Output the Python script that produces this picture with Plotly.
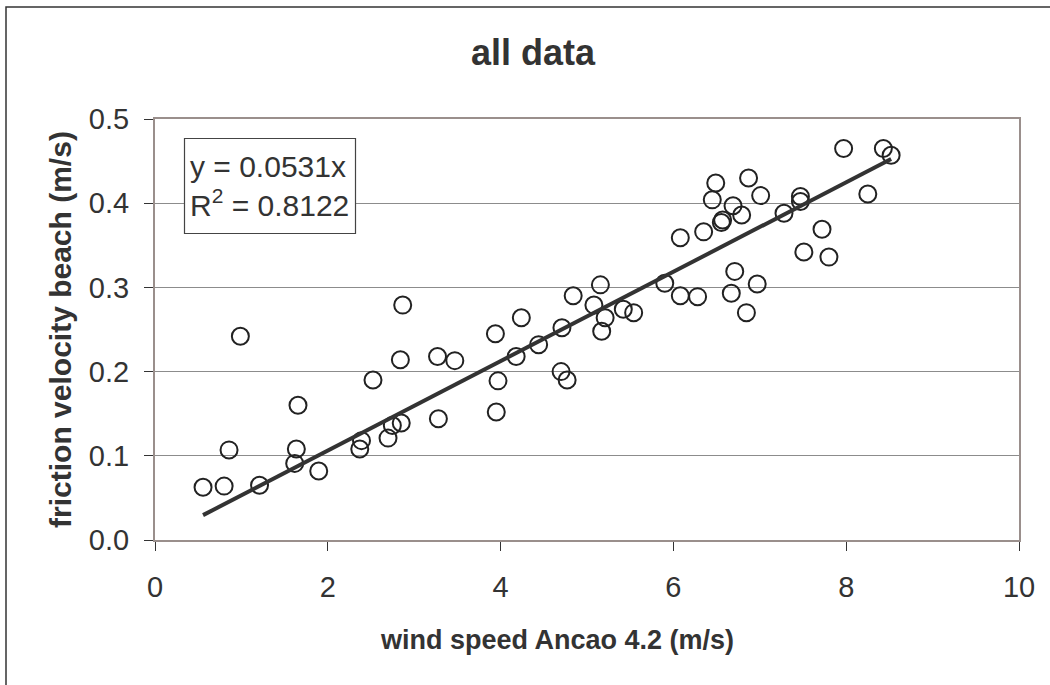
import plotly.graph_objects as go

# data
wind_speed = [0.556, 0.80, 0.988, 0.857, 1.21, 1.655, 1.636, 1.617, 1.895,
              2.867, 2.84, 2.523, 2.39, 2.37, 2.697, 2.747, 2.85,
              3.27, 3.47, 3.28, 3.94, 3.97, 3.95, 4.24, 4.18, 4.44,
              4.71, 4.84, 4.70, 4.77,
              5.155, 5.08, 5.21, 5.17, 5.42, 5.54, 5.90, 6.08, 6.08, 6.28,
              6.35, 6.49, 6.45, 6.57, 6.555, 6.69, 6.79, 6.71, 6.67, 6.845,
              6.97, 6.87, 7.01, 7.28, 7.47, 7.47, 7.72, 7.51, 7.80, 7.97,
              8.25, 8.43, 8.52]
friction_velocity = [0.0626, 0.064, 0.242, 0.107, 0.065, 0.160, 0.108, 0.091, 0.082,
                     0.279, 0.214, 0.190, 0.118, 0.108, 0.121, 0.136, 0.139,
                     0.218, 0.213, 0.144, 0.245, 0.189, 0.152, 0.264, 0.218, 0.232,
                     0.252, 0.290, 0.200, 0.190,
                     0.303, 0.279, 0.264, 0.248, 0.274, 0.270, 0.305, 0.359, 0.290, 0.289,
                     0.366, 0.424, 0.404, 0.380, 0.377, 0.397, 0.386, 0.319, 0.293, 0.270,
                     0.304, 0.430, 0.409, 0.388, 0.408, 0.402, 0.369, 0.342, 0.336, 0.465,
                     0.411, 0.465, 0.457]
trend_slope = 0.0531
trend_x = [min(wind_speed), max(wind_speed)]
x_ticks = [0, 2, 4, 6, 8, 10]
y_ticks = [0.0, 0.1, 0.2, 0.3, 0.4, 0.5]
y_tick_text = ["0.0", "0.1", "0.2", "0.3", "0.4", "0.5"]

FONT = "Liberation Sans, Arial, sans-serif"
W, H = 1050, 685
L, R, T, B = 155, 31, 119, 145
pw, ph = W - L - R, H - T - B

fig = go.Figure()
fig.add_trace(go.Scatter(
    x=wind_speed, y=friction_velocity, mode="markers",
    marker=dict(symbol="circle-open", size=17, color="#222222",
                line=dict(width=2, color="#222222")),
    showlegend=False, hoverinfo="x+y"))
fig.add_trace(go.Scatter(
    x=trend_x, y=[trend_slope * v for v in trend_x], mode="lines",
    line=dict(color="#333333", width=4), showlegend=False))

axis_common = dict(showline=True, linecolor="#9a8f8c", linewidth=2, mirror=True,
                   ticks="outside", ticklen=9, tickcolor="#333333", tickwidth=1,
                   tickfont=dict(family=FONT, size=29, color="#333333"),
                   zeroline=False)
fig.update_xaxes(range=[0, 10], tickvals=x_ticks, showgrid=False,
                 ticklabelstandoff=11, **axis_common)
fig.update_yaxes(range=[0, 0.5], tickvals=y_ticks, ticktext=y_tick_text,
                 showgrid=True, gridcolor="#8c8c8c", gridwidth=1,
                 ticklabelstandoff=9,
                 title=dict(text="<b>friction velocity beach (m/s)</b>",
                            font=dict(family=FONT, size=30, color="#333333"),
                            standoff=8),
                 **axis_common)

def px_x(p):
    return (p - L) / pw

def px_y(p):
    return (H - B - p) / ph

fig.add_shape(type="rect", xref="paper", yref="paper",
              x0=px_x(6), x1=px_x(1060), y0=px_y(700), y1=px_y(7),
              line=dict(color="#333333", width=1.5), layer="below")
fig.add_shape(type="rect", xref="paper", yref="paper",
              x0=px_x(184.5), x1=px_x(355.5), y0=px_y(233.5), y1=px_y(138.5),
              line=dict(color="#444444", width=1.2), fillcolor="white", layer="above")
fig.add_annotation(xref="paper", yref="paper", x=px_x(188), y=px_y(186),
                   xanchor="left", yanchor="middle", showarrow=False, align="left",
                   text="y = 0.0531x<br>R<sup>2</sup> = 0.8122",
                   font=dict(family=FONT, size=30, color="#333333"))
# x-axis title (offset left of the plot centre, as in the reference)
fig.add_annotation(xref="paper", yref="paper", x=px_x(557), y=px_y(640),
                   xanchor="center", yanchor="middle", showarrow=False,
                   text="<b>wind speed Ancao 4.2 (m/s)</b>",
                   font=dict(family=FONT, size=27, color="#333333"))

fig.update_layout(
    width=W, height=H, margin=dict(l=L, r=R, t=T, b=B),
    paper_bgcolor="white", plot_bgcolor="white",
    title=dict(text="<b>all data</b>", x=533 / W, xanchor="center",
               y=1 - 52 / H, yanchor="middle",
               font=dict(family=FONT, size=36, color="#333333")),
)
fig.write_html("out.html", config={"displayModeBar": False},
               post_script="document.body.style.margin='0';document.body.style.overflow='hidden';")
